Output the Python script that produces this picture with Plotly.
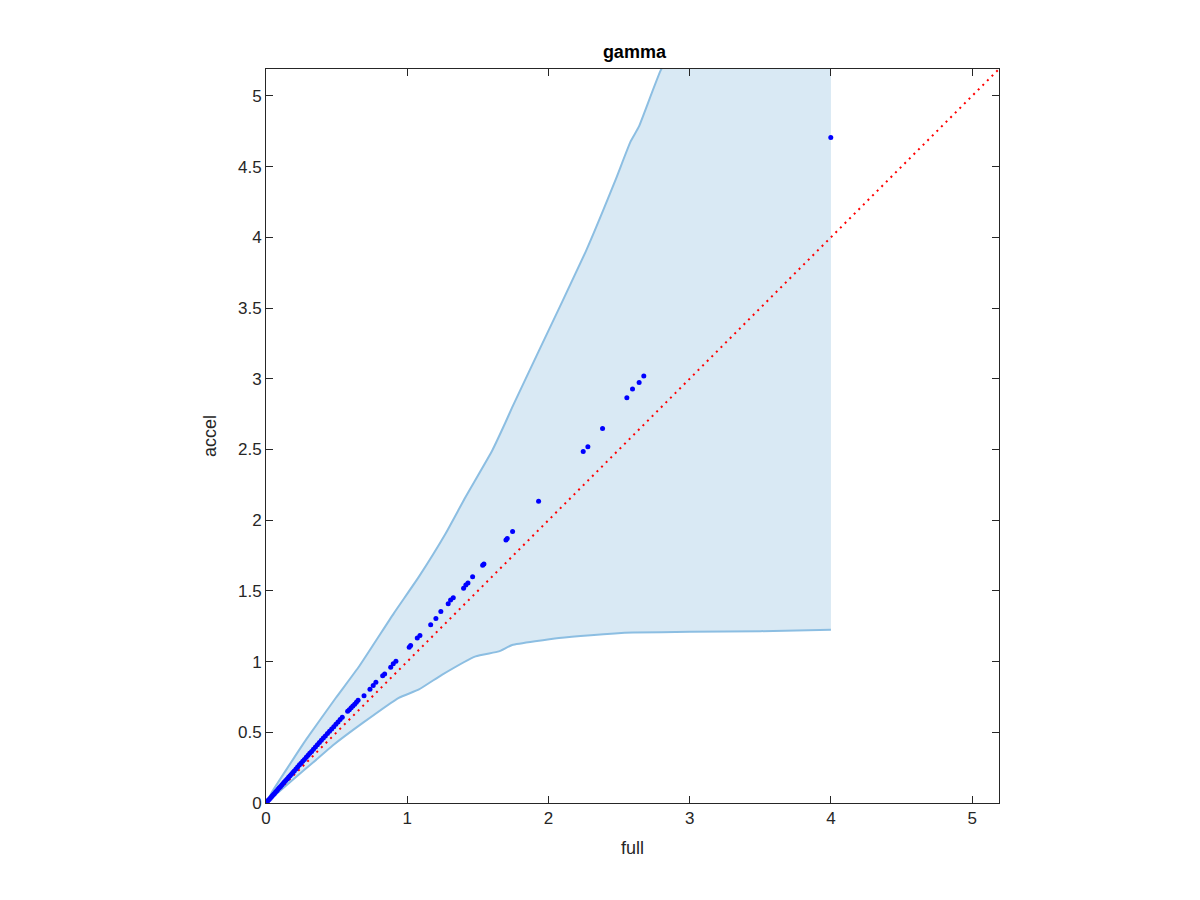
import plotly.graph_objects as go

# Blue points: (full, accel)
full_vals = [0.002, 0.008, 0.015, 0.022, 0.03, 0.038, 0.045, 0.053, 0.06, 0.068,
             0.077, 0.085, 0.094, 0.103, 0.112, 0.121, 0.13, 0.14, 0.15, 0.16,
             0.17, 0.18, 0.19, 0.2, 0.212, 0.224, 0.236, 0.248, 0.26, 0.272,
             0.285, 0.298, 0.31, 0.323, 0.336, 0.35, 0.364, 0.378, 0.392, 0.406,
             0.42, 0.435, 0.45, 0.465, 0.48, 0.495, 0.51, 0.525, 0.54, 0.578,
             0.59, 0.603, 0.615, 0.628, 0.64, 0.652, 0.694, 0.736, 0.759, 0.778,
             0.826, 0.840, 0.883, 0.901, 0.920, 1.014, 1.024, 1.071, 1.090, 1.166,
             1.203, 1.238, 1.290, 1.307, 1.326, 1.399, 1.415, 1.430, 1.463, 1.534,
             1.543, 1.699, 1.708, 1.746, 1.930, 2.246, 2.279, 2.383, 2.555, 2.595,
             2.642, 2.675, 3.999]
accel_vals = [0.002, 0.009, 0.017, 0.025, 0.034, 0.043, 0.051, 0.060, 0.068, 0.077,
              0.087, 0.097, 0.107, 0.117, 0.127, 0.137, 0.148, 0.159, 0.170, 0.182,
              0.193, 0.204, 0.216, 0.227, 0.241, 0.254, 0.268, 0.281, 0.295, 0.308,
              0.323, 0.337, 0.351, 0.365, 0.380, 0.396, 0.411, 0.427, 0.443, 0.459,
              0.474, 0.491, 0.507, 0.523, 0.540, 0.557, 0.573, 0.590, 0.606, 0.648,
              0.660, 0.673, 0.686, 0.699, 0.712, 0.726, 0.758, 0.805, 0.831, 0.854,
              0.899, 0.913, 0.960, 0.984, 1.002, 1.101, 1.113, 1.167, 1.185, 1.261,
              1.305, 1.354, 1.408, 1.435, 1.451, 1.519, 1.542, 1.556, 1.599, 1.681,
              1.690, 1.859, 1.871, 1.920, 2.134, 2.486, 2.519, 2.648, 2.866, 2.927,
              2.974, 3.019, 4.706]

# Band upper bound
upper_x = [0, 0.05, 0.15, 0.285, 0.495, 0.66, 0.906, 1.083, 1.272, 1.413,
           1.602, 1.696, 1.743, 1.932, 2.263, 2.475, 2.581, 2.640, 2.793, 3.0, 4.0]
upper_y = [0, 0.09, 0.245, 0.45, 0.744, 0.967, 1.343, 1.601, 1.906, 2.164,
           2.493, 2.692, 2.797, 3.197, 3.897, 4.406, 4.676, 4.782, 5.177, 5.55, 7.4]
# Band lower bound
lower_x = [0, 0.19, 0.355, 0.47, 0.69, 0.94, 1.083, 1.248, 1.484, 1.649,
           1.743, 2.074, 2.3, 2.6, 3.0, 3.5, 4.0]
lower_y = [0, 0.165, 0.305, 0.405, 0.57, 0.744, 0.803, 0.908, 1.037, 1.072,
           1.117, 1.167, 1.187, 1.205, 1.21, 1.215, 1.225]

# Reference line y = x
ref_x = [0, 5.19]
ref_y = [0, 5.19]

x_ticks = [0, 1, 2, 3, 4, 5]
y_ticks = [0, 0.5, 1, 1.5, 2, 2.5, 3, 3.5, 4, 4.5, 5]
y_tick_text = ["0", "0.5", "1", "1.5", "2", "2.5", "3", "3.5", "4", "4.5", "5"]

fill_color = "rgb(217,233,244)"
edge_color = "rgb(140,190,226)"
axis_color = "#262626"
font_family = "Liberation Sans, Arial, sans-serif"

fig = go.Figure()

# Filled band polygon (no edge)
fig.add_trace(go.Scatter(
    x=upper_x + lower_x[::-1], y=upper_y + lower_y[::-1],
    mode="lines", fill="toself", fillcolor=fill_color,
    line=dict(width=0, color=fill_color), hoverinfo="skip", showlegend=False))
# Boundary lines
fig.add_trace(go.Scatter(x=upper_x, y=upper_y, mode="lines",
                         line=dict(color=edge_color, width=2, shape="spline", smoothing=0.4),
                         showlegend=False))
fig.add_trace(go.Scatter(x=lower_x, y=lower_y, mode="lines",
                         line=dict(color=edge_color, width=2, shape="spline", smoothing=0.4),
                         showlegend=False))
# Reference diagonal
fig.add_trace(go.Scatter(x=ref_x, y=ref_y, mode="lines",
                         line=dict(color="red", width=2, dash="2px,4.5px"),
                         showlegend=False))
# Points
fig.add_trace(go.Scatter(x=full_vals, y=accel_vals, mode="markers",
                         marker=dict(color="blue", size=5, line=dict(width=0)),
                         showlegend=False))

axis_common = dict(
    showgrid=False, zeroline=False, showline=True, linecolor=axis_color,
    linewidth=1, mirror="ticks", ticks="inside", ticklen=7, tickwidth=1,
    tickcolor=axis_color, tickfont=dict(family=font_family, size=17, color=axis_color),
)

fig.update_layout(
    width=1200, height=900,
    paper_bgcolor="white", plot_bgcolor="white",
    margin=dict(l=258, r=209, t=61, b=105),
    title=dict(text="<b>gamma</b>", x=0.522, xanchor="center", y=0.951, yanchor="middle",
               font=dict(family=font_family, size=18, color="black")),
    xaxis=dict(range=[0, 5.19], tickvals=x_ticks,
               title=dict(text="full", font=dict(family=font_family, size=18, color=axis_color),
                          standoff=13),
               **axis_common),
    yaxis=dict(range=[0, 5.19], tickvals=y_ticks, ticktext=y_tick_text,
               title=dict(text="accel", font=dict(family=font_family, size=18, color=axis_color),
                          standoff=16),
               **axis_common),
)

fig.write_html("out.html")
